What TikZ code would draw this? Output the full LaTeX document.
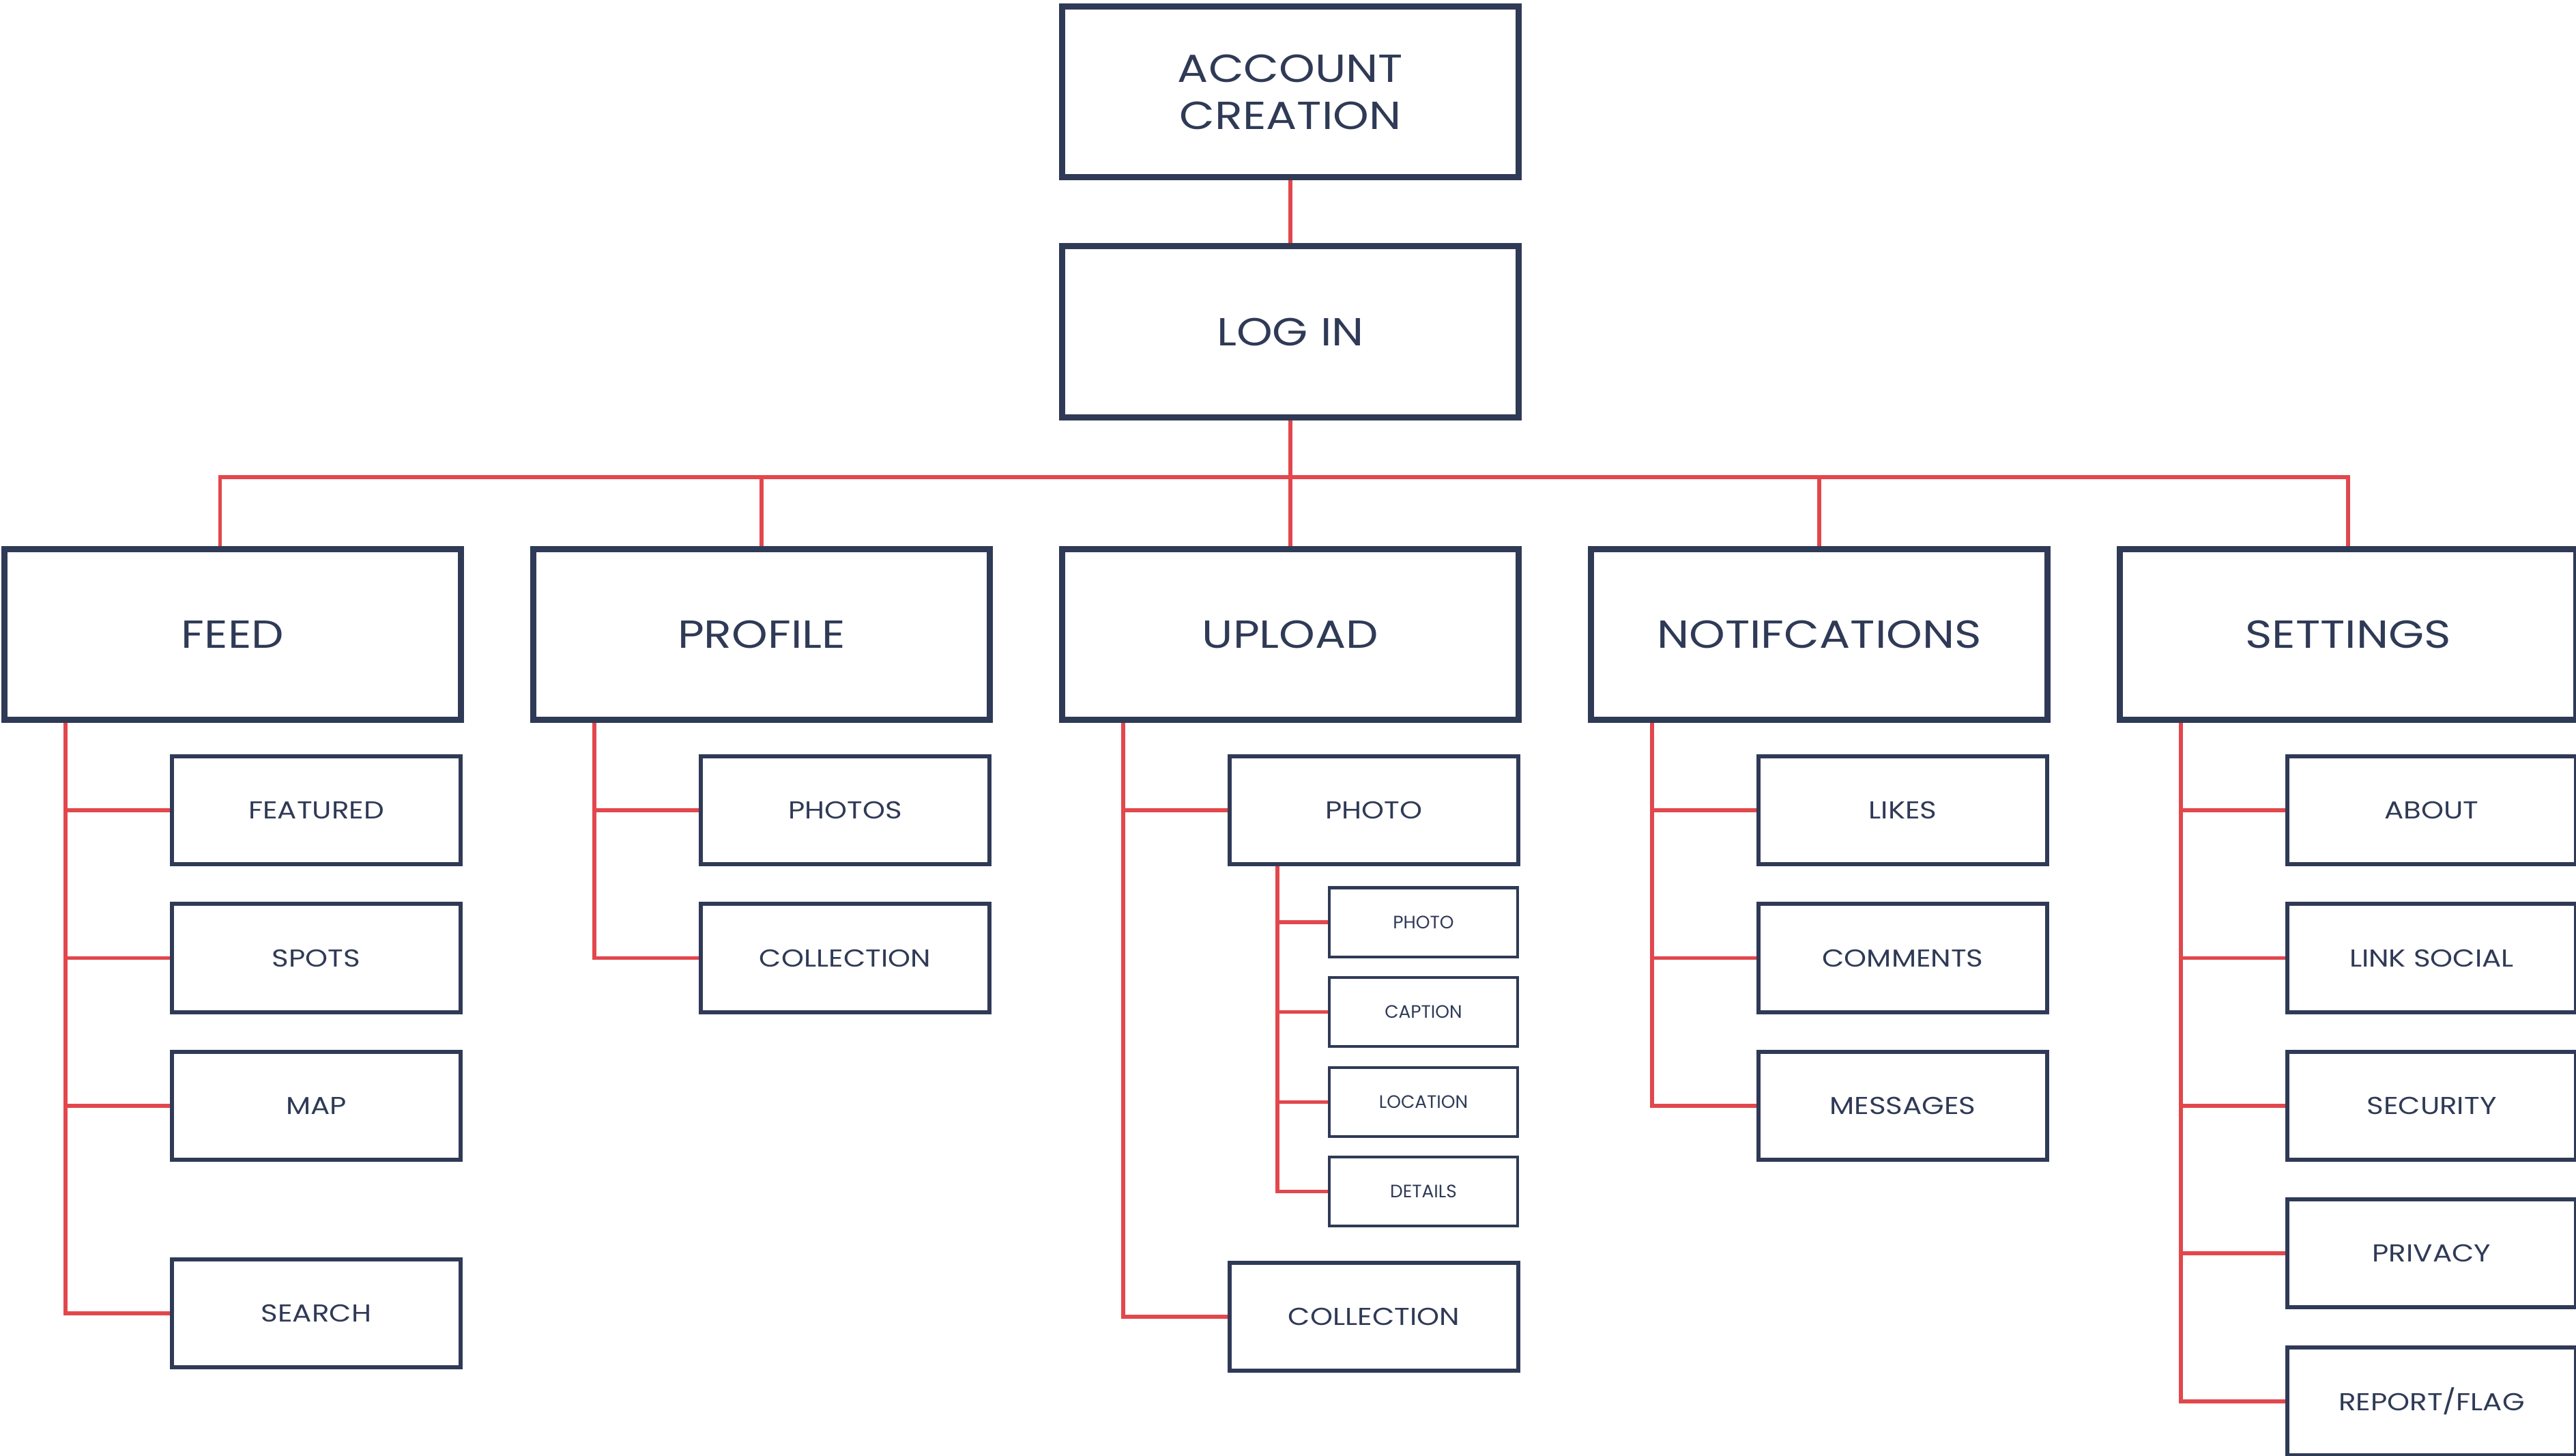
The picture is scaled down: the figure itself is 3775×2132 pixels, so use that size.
\documentclass[tikz,border=0pt]{standalone}
\usepackage{fontspec}
\setmainfont{Poppins}
\newfontfamily\widefont{Poppins}[FakeStretch=1.17]
\definecolor{navy}{HTML}{2F3A56}
\definecolor{lred}{HTML}{E2474C}
\begin{document}
\begin{tikzpicture}[x=0.01cm,y=-0.01cm,
 big/.style={draw=navy, line width=2.56pt, minimum width=6.69cm, minimum height=2.5cm, text=navy, font=\widefont\fontsize{16.3}{19.6}\selectfont, align=center, inner sep=0pt},
 child/.style={draw=navy, line width=1.7pt, minimum width=4.23cm, minimum height=1.58cm, text=navy, font=\widefont\fontsize{10.2}{12}\selectfont, inner sep=0pt},
 sub/.style={draw=navy, line width=1.14pt, minimum width=2.76cm, minimum height=1.01cm, text=navy, font=\fontsize{7.5}{9}\selectfont, inner sep=0pt},
 conn/.style={draw=lred, line width=1.56pt}]
\useasboundingbox (0,0) rectangle (3775,2132);

\node[big] (acc) at (1891,134.5) {ACCOUNT\\CREATION};
\node[big] (login) at (1891,486) {LOG IN};
\node[big] (feed) at (341,929.5) {FEED};
\node[big] (profile) at (1116,929.5) {PROFILE};
\node[big] (upload) at (1891,929.5) {UPLOAD};
\node[big] (notif) at (2666,929.5) {NOTIFCATIONS};
\node[big] (settings) at (3441,929.5) {SETTINGS};

% feed children
\node[child] (featured) at (463.5,1187) {FEATURED};
\node[child] (spots) at (463.5,1403.5) {SPOTS};
\node[child] (map) at (463.5,1620) {MAP};
\node[child] (search) at (463.5,1924) {SEARCH};
% profile children
\node[child] (photos) at (1238.5,1187) {PHOTOS};
\node[child] (pcoll) at (1238.5,1403.5) {COLLECTION};
% upload children
\node[child] (uphoto) at (2013.5,1187) {PHOTO};
\node[child] (ucoll) at (2013.5,1929) {COLLECTION};
\node[sub] (sphoto) at (2086,1351) {PHOTO};
\node[sub] (scaption) at (2086,1482.7) {CAPTION};
\node[sub] (slocation) at (2086,1614.3) {LOCATION};
\node[sub] (sdetails) at (2086,1745.4) {DETAILS};
% notification children
\node[child] (likes) at (2788.5,1187) {LIKES};
\node[child] (comments) at (2788.5,1403.5) {COMMENTS};
\node[child] (messages) at (2788.5,1620) {MESSAGES};
% settings children
\node[child] (about) at (3563.5,1187) {ABOUT};
\node[child] (link) at (3563.5,1403.5) {LINK SOCIAL};
\node[child] (security) at (3563.5,1620) {SECURITY};
\node[child] (privacy) at (3563.5,1836) {PRIVACY};
\node[child] (report) at (3563.5,2053) {REPORT/FLAG};

% top connectors
\draw[conn] (acc.south) -- (login.north);
\draw[conn] (login.south) -- (upload.north);
\coordinate (busL) at (322.6,699);
\draw[conn] (feed.north -| busL) -- (busL) -- (busL -| settings.north) -- (settings.north);
\draw[conn] (busL -| profile.north) -- (profile.north);
\draw[conn] (busL -| notif.north) -- (notif.north);

% vertical spines
\coordinate (fv) at ([xshift=0.94cm]feed.south west);
\coordinate (pv) at ([xshift=0.94cm]profile.south west);
\coordinate (uv) at ([xshift=0.94cm]upload.south west);
\coordinate (nv) at ([xshift=0.94cm]notif.south west);
\coordinate (sv) at ([xshift=0.94cm]settings.south west);
\coordinate (phv) at ([xshift=0.73cm]uphoto.south west);

\draw[conn] (fv) |- (search.west);
\draw[conn] (fv |- featured.west) -- (featured.west);
\draw[conn] (fv |- spots.west) -- (spots.west);
\draw[conn] (fv |- map.west) -- (map.west);

\draw[conn] (pv) |- (pcoll.west);
\draw[conn] (pv |- photos.west) -- (photos.west);

\draw[conn] (uv) |- (ucoll.west);
\draw[conn] (uv |- uphoto.west) -- (uphoto.west);
\draw[conn] (phv) |- (sdetails.west);
\draw[conn] (phv |- sphoto.west) -- (sphoto.west);
\draw[conn] (phv |- scaption.west) -- (scaption.west);
\draw[conn] (phv |- slocation.west) -- (slocation.west);

\draw[conn] (nv) |- (messages.west);
\draw[conn] (nv |- likes.west) -- (likes.west);
\draw[conn] (nv |- comments.west) -- (comments.west);

\draw[conn] (sv) |- (report.west);
\draw[conn] (sv |- about.west) -- (about.west);
\draw[conn] (sv |- link.west) -- (link.west);
\draw[conn] (sv |- security.west) -- (security.west);
\draw[conn] (sv |- privacy.west) -- (privacy.west);
\end{tikzpicture}
\end{document}
